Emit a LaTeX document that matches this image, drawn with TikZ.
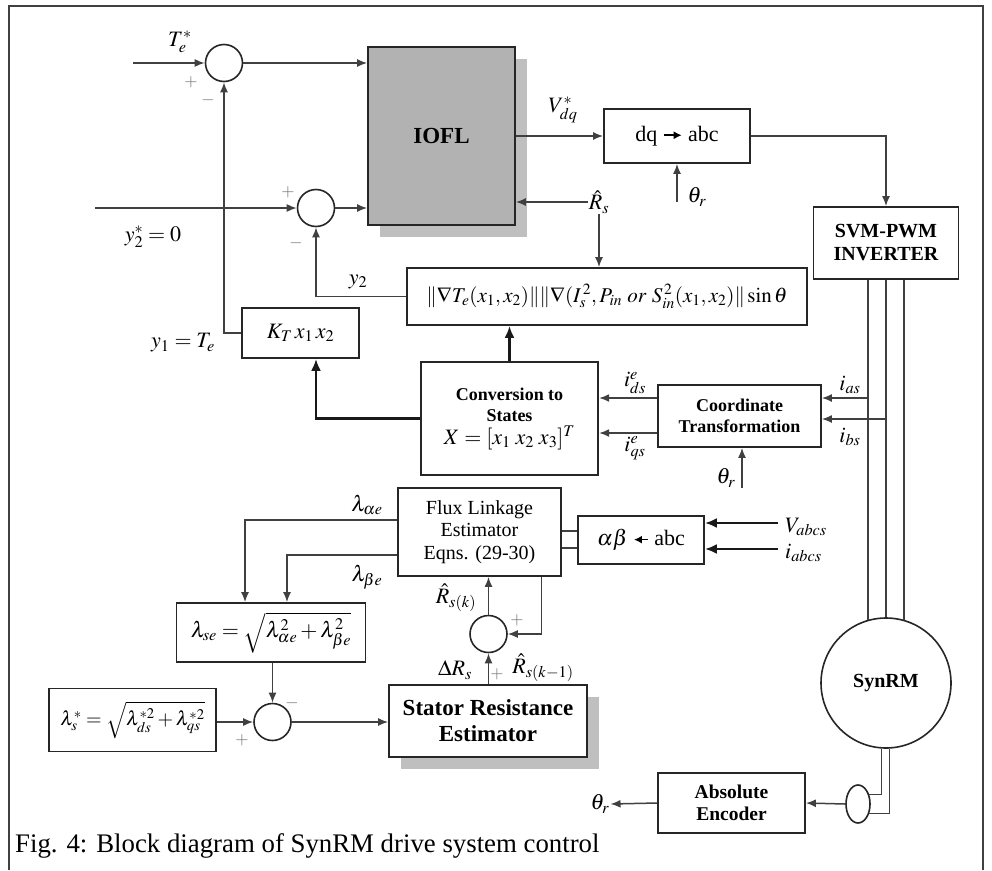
\documentclass[tikz,border=0pt]{standalone}
\usepackage{mathptmx}
\usepackage[no-math]{fontspec}
\setmainfont{Liberation Serif}
\usetikzlibrary{arrows.meta,shapes.geometric,shadows}

\newcommand{\pxfont}[2]{\fontsize{#1}{#2}\selectfont}
\newcommand{\rarrow}{\tikz[baseline=-0.6ex]\draw[line width=1.6pt,-{Latex[length=8pt,width=8pt]}] (0pt,0pt) -- (18pt,0pt);}
\newcommand{\larrow}{\tikz[baseline=-0.6ex]\draw[line width=1.6pt,{Latex[length=8pt,width=8pt]}-] (0pt,0pt) -- (14pt,0pt);}

\begin{document}
\begin{tikzpicture}[
  x=1pt, y=-1pt,
  block/.style={draw=black!85, line width=1.8pt, fill=white, align=center, inner sep=0pt},
  sumnode/.style={circle, draw=black!85, line width=1.6pt, fill=white, minimum size=37pt, inner sep=0pt},
  sig/.style={draw=black!75, line width=1.5pt},
  arr/.style={sig, -{Latex[length=10pt,width=8pt]}},
  bigarr/.style={draw=black!90, line width=2.6pt, -{Latex[length=12pt,width=10pt]}},
  lbl/.style={inner sep=1pt, font=\pxfont{22}{24}},
  sgn/.style={inner sep=0pt, text=black!55, font=\pxfont{17}{17}},
  boxshadow/.style={drop shadow={shadow xshift=12pt, shadow yshift=-12pt, fill=black!25, opacity=1}}
]
  \useasboundingbox (0,0) rectangle (992,870);
  \draw[line width=2pt, black!75] (9,870) -- (9,6) -- (983,6) -- (983,870);

  % controller blocks
  \node[block, boxshadow, fill=black!30, minimum width=147pt, minimum height=178pt,
        font=\bfseries\pxfont{23}{26}] (iofl) at (441.5,136) {IOFL};
  \node[sumnode] (s1) at (224,63) {};
  \node[sumnode] (s2) at (316,208) {};
  \node[block, minimum width=146pt, minimum height=54pt, font=\pxfont{22}{24}] (dq) at (677,136) {dq \rarrow\ abc};
  \node[block, minimum width=145pt, minimum height=72pt, font=\bfseries\pxfont{20}{23}] (svm) at (886,243) {SVM-PWM\\INVERTER};
  \node[block, minimum width=400pt, minimum height=57pt, font=\pxfont{21}{24}] (grad) at (607,296.5)
    {$\|\nabla T_e(x_1,x_2)\|\|\nabla(I_s^{\,2},P_{in}\ or\ S_{in}^{\,2}(x_1,x_2)\|\sin\theta$};
  \node[block, minimum width=117pt, minimum height=50pt, font=\pxfont{22}{24}] (kt) at (300.5,333) {$K_T\,x_1\,x_2$};
  \node[block, line width=2.4pt, minimum width=177pt, minimum height=113pt, font=\bfseries\pxfont{18}{21}] (conv) at (509.5,418.5)
    {Conversion to\\States\\[2pt]\mdseries\pxfont{22}{24}$X=[x_1\;x_2\;x_3]^T$};
  \node[block, minimum width=163pt, minimum height=62pt, font=\bfseries\pxfont{18}{21}] (ct) at (739.5,416) {Coordinate\\Transformation};

  % estimator blocks
  \node[block, minimum width=163pt, minimum height=88pt, font=\pxfont{20}{22.5}] (flux) at (479.5,532) {Flux Linkage\\Estimator\\Eqns. (29-30)};
  \node[block, minimum width=126pt, minimum height=48pt, font=\pxfont{22}{24}] (ab) at (641,540) {$\alpha\beta$ \larrow\ abc};
  \node[block, minimum width=189pt, minimum height=59pt, font=\pxfont{22}{24}] (lse) at (271,632.5)
    {$\lambda_{se}=\sqrt{\lambda_{\alpha e}^2+\lambda_{\beta e}^2}$};
  \node[block, minimum width=167pt, minimum height=63pt, font=\pxfont{20}{23}] (lstar) at (132.5,720)
    {$\lambda_s^*=\sqrt{\lambda_{ds}^{*2}+\lambda_{qs}^{*2}}$};
  \node[sumnode] (sl) at (272.5,722) {};
  \node[sumnode] (sr) at (488.5,634) {};
  \node[block, boxshadow, minimum width=198pt, minimum height=72pt, font=\bfseries\pxfont{23}{26}] (sre) at (488,721)
    {Stator Resistance\\Estimator};

  % machine side
  \node[circle, draw=black!85, line width=1.6pt, minimum size=130pt, inner sep=0pt, font=\bfseries\pxfont{20}{22}] (motor) at (886,683) {SynRM};
  \node[ellipse, draw=black!85, line width=1.6pt, minimum width=24pt, minimum height=38pt, inner sep=0pt] (pick) at (858,804) {};
  \node[block, minimum width=147pt, minimum height=60pt, font=\bfseries\pxfont{19.5}{22}] (enc) at (731.5,803) {Absolute\\Encoder};

  % signal labels
  \node[lbl] (tes) at (180,42) {$T_e^*$};
  \node[lbl] (y2s) at (153,237) {$y_2^*=0$};
  \node[lbl] (vdq) at (563,110) {$V_{dq}^*$};
  \node[lbl] (tha) at (697,197) {$\theta_r$};
  \node[lbl] (rs) at (599,202) {$\hat R_s$};
  \node[lbl] (y2) at (358,282) {$y_2$};
  \node[lbl] (y1) at (183,343) {$y_1=T_e$};
  \node[lbl] (ids) at (635,383) {$i_{ds}^e$};
  \node[lbl] (iqs) at (635,448) {$i_{qs}^e$};
  \node[lbl] (ias) at (850,385) {$i_{as}$};
  \node[lbl] (ibs) at (850,437) {$i_{bs}$};
  \node[lbl] (thb) at (726,478) {$\theta_r$};
  \node[lbl] (lae) at (367,505) {$\lambda_{\alpha e}$};
  \node[lbl] (lbe) at (367,577) {$\lambda_{\beta e}$};
  \node[lbl] (rsk) at (456,598) {$\hat R_{s(k)}$};
  \node[lbl] (rsk1) at (543,668) {$\hat R_{s(k-1)}$};
  \node[lbl] (drs) at (455,670) {$\Delta R_s$};
  \node[lbl] (thc) at (600,804) {$\theta_r$};
  \coordinate (vin) at (778,523);
  \coordinate (iin) at (778,549);
  \node[lbl, anchor=west] (vabcs) at (784,527) {$V_{abcs}$};
  \node[lbl, anchor=west] (iabcs) at (784,553) {$i_{abcs}$};

  % summing signs
  \node[sgn] at (191,82) {$+$};
  \node[sgn] at (208,100) {$-$};
  \node[sgn] at (288,192) {$+$};
  \node[sgn] at (296,243) {$-$};
  \node[sgn] at (517,620) {$+$};
  \node[sgn] at (497,674) {$+$};
  \node[sgn] at (292,703) {$-$};
  \node[sgn] at (242,740) {$+$};

  % inputs and loops
  \coordinate (tein) at (133,63);
  \coordinate (y2in) at (95,208);
  \coordinate (thain) at (677,202);
  \coordinate (thbin) at (742,488);
  \draw[arr] (tein) -- (s1);
  \draw[arr] (y2in) -- (s2);
  \draw[arr] (s1) -- (s1 -| iofl.west);
  \draw[arr] (s2) -- (s2 -| iofl.west);
  \draw[arr] (kt.west) -- (kt.west -| s1) -- (s1);
  \draw[arr] (grad.west) -- (grad.west -| s2) -- (s2);
  \draw[arr] (iofl.east |- dq) -- (dq.west);
  \draw[arr] (thain) -- (dq.south);
  \draw[arr] (dq.east) -- (dq.east -| svm) -- (svm.north);
  \draw[arr] (rs.west) -- (rs.west -| iofl.east);
  \draw[arr] (rs.south) -- (rs.south |- grad.north);
  \draw[bigarr] (conv.north) -- (conv.north |- grad.south);
  \draw[bigarr] (conv.west) -- (conv.west -| s2) -- (s2 |- kt.south);
  \foreach \dy in {18,-17}
    \draw[arr] ([yshift=\dy pt]ct.west) -- ([yshift=\dy pt]ct.west -| conv.east);
  \draw[arr] (thbin) -- (thbin |- ct.south);

  % inverter phases to the machine
  \draw[sig] (svm.south -| motor.106) -- (motor.106);
  \draw[sig] (svm.south -| motor.north) -- (motor.north);
  \draw[sig] (svm.south -| motor.74) -- (motor.74);
  \draw[arr] ([yshift=18pt]ct.east -| motor.106) -- ([yshift=18pt]ct.east);
  \draw[arr] ([yshift=-3pt]ct.east -| motor.north) -- ([yshift=-3pt]ct.east);

  % flux and resistance estimation
  \draw[bigarr] (vin) -- (vin -| ab.east);
  \draw[bigarr] (iin) -- (iin -| ab.east);
  \foreach \dy in {9,-8}
    \draw[sig] ([yshift=\dy pt]ab.west) -- ([yshift=\dy pt]ab.west -| flux.east);
  \draw[arr] ([yshift=12pt]flux.west) -| ([xshift=-26pt]lse.north);
  \draw[arr] ([yshift=-23pt]flux.west) -| ([xshift=16pt]lse.north);
  \draw[arr] (lse.south -| sl) -- (sl);
  \draw[arr] (lstar.east |- sl) -- (sl);
  \draw[arr] (sl) -- (sl -| sre.west);
  \draw[arr] (sre.north -| sr) -- (sr);
  \draw[arr] (sr) -- (sr |- flux.south);
  \draw[arr] ([xshift=62pt]flux.south) |- (sr);

  % position feedback
  \draw[sig] (motor.266) |- (pick.40);
  \draw[sig] (motor.273) |- (pick.-40);
  \draw[arr] (pick.west) -- (enc.east);
  \draw[arr] (enc.west) -- (thc.east);

  \node[anchor=west, inner sep=0pt, font=\pxfont{26.8}{30}] (cap) at (15,846) {Fig. 4: Block diagram of SynRM drive system control};
\end{tikzpicture}
\end{document}
